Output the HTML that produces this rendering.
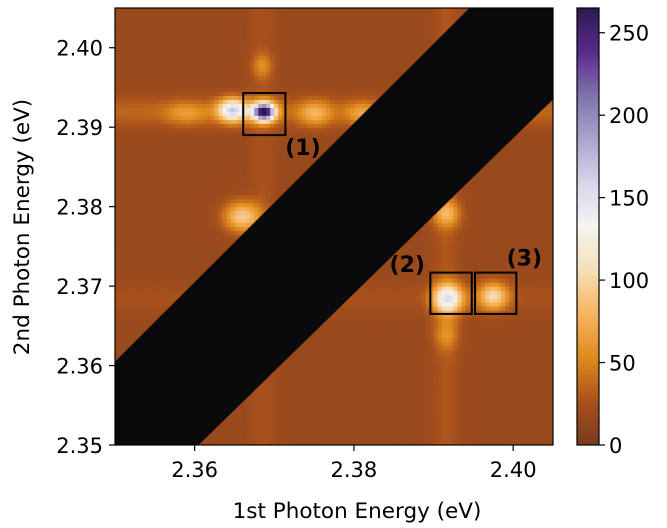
<!DOCTYPE html>
<html><head><meta charset="utf-8">
<style>
body{margin:0;background:#fff;}
svg{display:block;font-family:"DejaVu Sans","Liberation Sans",sans-serif;}
</style></head>
<body>
<svg id="fig" width="667" height="528" viewBox="0 0 667 528" xmlns="http://www.w3.org/2000/svg">
<defs>
<linearGradient id="cbgrad" x1="0" y1="1" x2="0" y2="0">
<stop offset="0" stop-color="#783a1e"/><stop offset="0.1" stop-color="#a9511c"/><stop offset="0.2" stop-color="#e08a1c"/><stop offset="0.3" stop-color="#f6b560"/><stop offset="0.4" stop-color="#f6dfb8"/><stop offset="0.5" stop-color="#f5f5f3"/><stop offset="0.6" stop-color="#d6d6ea"/><stop offset="0.7" stop-color="#aaa4cc"/><stop offset="0.8" stop-color="#7f72ac"/><stop offset="0.9" stop-color="#5a2a8c"/><stop offset="1" stop-color="#2c1a4c"/>
</linearGradient>
<clipPath id="plotclip"><rect x="115" y="8" width="438" height="437"/></clipPath>
</defs>
<g id="heat" clip-path="url(#plotclip)"></g>
<g id="over"></g>
<rect x="115" y="8" width="438" height="437" fill="none" stroke="#000" stroke-width="1.2"/>
<g id="axes"></g>
<rect x="577" y="8" width="22" height="437" fill="url(#cbgrad)" stroke="#000" stroke-width="1.2"/>
<text x="357" y="518" font-size="21.5" text-anchor="middle">1st Photon Energy (eV)</text>
<text transform="translate(29,227) rotate(-90)" font-size="21.5" text-anchor="middle">2nd Photon Energy (eV)</text>
</svg>
<script>
// heatmap features (eV positions, counts)
const baseline = 18;
const peakX = [2.3687, 2.3648, 2.3660, 2.3751, 2.3590, 2.3810, 2.3918, 2.3975, 2.3916, 2.3916, 2.3685];
const peakY = [2.3920, 2.3922, 2.3788, 2.3918, 2.3918, 2.3918, 2.3685, 2.3688, 2.3792, 2.3640, 2.3978];
const peakAmp = [240, 130, 75, 45, 30, 35, 120, 80, 55, 30, 30];
const peakWx = [0.0010, 0.0013, 0.0016, 0.0014, 0.0018, 0.0014, 0.0013, 0.0013, 0.0012, 0.0011, 0.0009];
const peakWy = [0.0008, 0.0010, 0.0013, 0.0011, 0.0010, 0.0010, 0.0013, 0.0012, 0.0012, 0.0014, 0.0011];
// stripes: horizontal at Y, vertical at X
const hStripeY = [2.3920, 2.3685];
const hStripeAmp = [18, 7];
const vStripeX = [2.3916, 2.3685];
const vStripeAmp = [11, 8];
const maskHalfWidth = 0.0105;
const vmax = 265;
const xTicks = [2.36, 2.38, 2.40];
const yTicks = [2.35, 2.36, 2.37, 2.38, 2.39, 2.40];
const cbTicks = [0, 50, 100, 150, 200, 250];
const boxX0 = [2.3661, 2.3896, 2.3952];
const boxX1 = [2.3714, 2.3948, 2.4004];
const boxY0 = [2.3890, 2.3665, 2.3665];
const boxY1 = [2.3943, 2.3717, 2.3717];
const boxLabels = ["(1)", "(2)", "(3)"];
const labelX = [2.3736, 2.3867, 2.4014];
const labelY = [2.3865, 2.3718, 2.3726];

const X0=115,X1=553,Y0=445,Y1=8, xmin=2.35,xmax=2.405,ymin=2.35,ymax=2.405;
const sx=v=>X0+(v-xmin)/(xmax-xmin)*(X1-X0);
const sy=v=>Y0-(v-ymin)/(ymax-ymin)*(Y0-Y1);
const cbY=v=>445-v/vmax*437;
const stops=[[0,"#783a1e"],[0.1,"#a9511c"],[0.2,"#e08a1c"],[0.3,"#f6b560"],[0.4,"#f6dfb8"],[0.5,"#f5f5f3"],[0.6,"#d6d6ea"],[0.7,"#aaa4cc"],[0.8,"#7f72ac"],[0.9,"#5a2a8c"],[1,"#2c1a4c"]];
function hex(h){return [1,3,5].map(i=>parseInt(h.substr(i,2),16));}
function cmap(v){let t=Math.max(0,Math.min(1,v/vmax));for(let i=1;i<stops.length;i++){if(t<=stops[i][0]){const a=hex(stops[i-1][1]),b=hex(stops[i][1]);const f=(t-stops[i-1][0])/(stops[i][0]-stops[i-1][0]);return "rgb("+a.map((c,k)=>Math.round(c+(b[k]-c)*f)).join(",")+")";}}return stops[stops.length-1][1];}
const NS="http://www.w3.org/2000/svg";
const heat=document.getElementById('heat');
const step=0.0005;
for(let x=xmin;x<xmax;x+=step){for(let y=ymin;y<ymax;y+=step){
  const cx=x+step/2, cy=y+step/2;
  let v=baseline;
  for(let i=0;i<peakX.length;i++){v+=peakAmp[i]*Math.exp(-((cx-peakX[i])**2)/(2*peakWx[i]**2)-((cy-peakY[i])**2)/(2*peakWy[i]**2));}
  for(let i=0;i<hStripeY.length;i++){v+=hStripeAmp[i]*Math.exp(-((cy-hStripeY[i])**2)/(2*0.0013**2));}
  for(let i=0;i<vStripeX.length;i++){v+=vStripeAmp[i]*Math.exp(-((cx-vStripeX[i])**2)/(2*0.0011**2));}
  const r=document.createElementNS(NS,'rect');
  
  
  r.setAttribute('x',sx(x).toFixed(2));r.setAttribute('y',sy(y+step).toFixed(2));
  r.setAttribute('width',(sx(x+step)-sx(x)+0.6).toFixed(2));r.setAttribute('height',(sy(y)-sy(y+step)+0.6).toFixed(2));
  r.setAttribute('fill',cmap(v));heat.appendChild(r);
}}
// masked diagonal band
const band=document.createElementNS(NS,'polygon');


const w=maskHalfWidth;
band.setAttribute('points',[[xmin,xmin+w],[xmax-w,xmax],[xmax,xmax],[xmax,xmax-w-0.001],[xmin+w,xmin],[xmin,xmin]].map(p=>sx(p[0])+","+sy(p[1])).join(" "));
band.setAttribute('fill','#0a0a0c');heat.appendChild(band);
const over=document.getElementById('over');
for(let i=0;i<boxX0.length;i++){
  const b=document.createElementNS(NS,'rect');
  
  
  b.setAttribute('x',sx(boxX0[i]));b.setAttribute('y',sy(boxY1[i]));
  b.setAttribute('width',sx(boxX1[i])-sx(boxX0[i]));b.setAttribute('height',sy(boxY0[i])-sy(boxY1[i]));
  b.setAttribute('fill','none');b.setAttribute('stroke','#000');b.setAttribute('stroke-width','2');over.appendChild(b);
  const t=document.createElementNS(NS,'text');
  
  
  t.setAttribute('x',sx(labelX[i]));t.setAttribute('y',sy(labelY[i]));
  t.setAttribute('font-size','22');t.setAttribute('font-weight','bold');t.setAttribute('text-anchor','middle');
  t.textContent=boxLabels[i];over.appendChild(t);
}
const axes=document.getElementById('axes');
function line(x1,y1,x2,y2,name){const l=document.createElementNS(NS,'line');
  
  
  l.setAttribute('x1',x1);l.setAttribute('y1',y1);l.setAttribute('x2',x2);l.setAttribute('y2',y2);l.setAttribute('stroke','#000');l.setAttribute('stroke-width','1.2');axes.appendChild(l);}
function text(x,y,s,anchor,name){const t=document.createElementNS(NS,'text');
  
  
  t.setAttribute('x',x);t.setAttribute('y',y);t.setAttribute('font-size','21');t.setAttribute('text-anchor',anchor);t.textContent=s;axes.appendChild(t);}
xTicks.forEach(v=>{line(sx(v),445,sx(v),451,'x-tick');text(sx(v),477,v.toFixed(2),'middle','x-tick-label');});
yTicks.forEach(v=>{line(109,sy(v),115,sy(v),'y-tick');text(103,sy(v)+8,v.toFixed(2),'end','y-tick-label');});
cbTicks.forEach(v=>{line(599,cbY(v),605,cbY(v),'colorbar-tick');text(609,cbY(v)+8,String(v),'start','colorbar-tick-label');});
</script>
</body></html>
